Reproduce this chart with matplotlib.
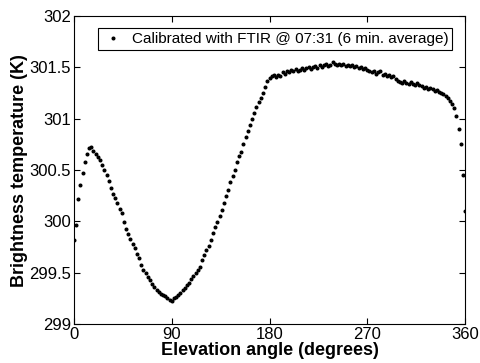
import numpy as np
import matplotlib
matplotlib.use('Agg')
import matplotlib.pyplot as plt

plt.rcParams['font.family'] = ['Liberation Sans', 'DejaVu Sans']

# angulos de elevacion (grados), cada 2 grados
angulo = np.arange(0, 361, 2)

# temperatura de brillo (K)
temperatura = [
    299.82, 299.97, 300.22, 300.35, 300.47, 300.58, 300.66, 300.71, 300.72, 300.69,
    300.66, 300.63, 300.60, 300.55, 300.50, 300.45, 300.39, 300.33, 300.27, 300.23,
    300.18, 300.12, 300.08, 299.99, 299.93, 299.88, 299.83, 299.78, 299.74, 299.68,
    299.64, 299.58, 299.53, 299.50, 299.46, 299.43, 299.39, 299.36, 299.33, 299.31,
    299.29, 299.28, 299.27, 299.25, 299.24, 299.23, 299.25, 299.26, 299.28, 299.30,
    299.33, 299.35, 299.38, 299.40, 299.44, 299.47, 299.50, 299.53, 299.56, 299.62,
    299.67, 299.72, 299.76, 299.82, 299.89, 299.95, 299.99, 300.05, 300.11, 300.18,
    300.25, 300.31, 300.38, 300.44, 300.50, 300.58, 300.64, 300.68, 300.75, 300.82,
    300.88, 300.94, 301.00, 301.06, 301.11, 301.16, 301.20, 301.25, 301.31, 301.37,
    301.40, 301.42, 301.43, 301.41, 301.43, 301.42, 301.45, 301.44, 301.46, 301.45,
    301.47, 301.46, 301.48, 301.46, 301.47, 301.49, 301.47, 301.49, 301.50, 301.48,
    301.50, 301.51, 301.49, 301.52, 301.50, 301.52, 301.53, 301.51, 301.52, 301.55,
    301.53, 301.52, 301.53, 301.52, 301.53, 301.51, 301.52, 301.51, 301.52, 301.50,
    301.51, 301.49, 301.50, 301.48, 301.49, 301.47, 301.46, 301.45, 301.46, 301.44,
    301.45, 301.46, 301.43, 301.44, 301.42, 301.43, 301.41, 301.42, 301.39, 301.37,
    301.36, 301.35, 301.37, 301.35, 301.34, 301.36, 301.34, 301.33, 301.35, 301.33,
    301.32, 301.30, 301.31, 301.29, 301.30, 301.29, 301.27, 301.28, 301.26, 301.25,
    301.24, 301.22, 301.20, 301.17, 301.14, 301.10, 301.03, 300.90, 300.75, 300.45,
    300.10,
]

etiqueta = 'Calibrated with FTIR @ 07:31 (6 min. average)'

fig = plt.figure(figsize=(4.8, 3.63), dpi=100)
ax = fig.add_axes([0.154, 0.107, 0.815, 0.849])

ax.plot(angulo, temperatura, '.', color='black', markersize=3.8, label=etiqueta)

ax.set_xlim(0, 360)
ax.set_ylim(299, 302)
ax.set_xticks([0, 90, 180, 270, 360])
ax.set_yticks([299, 299.5, 300, 300.5, 301, 301.5, 302])
ax.set_yticklabels(['299', '299.5', '300', '300.5', '301', '301.5', '302'])
ax.tick_params(direction='in', top=True, right=True, labelsize=12, length=4, pad=2)

ax.set_xlabel('Elevation angle (degrees)', fontsize=13, fontweight='bold', labelpad=0)
ax.set_ylabel('Brightness temperature (K)', fontsize=13, fontweight='bold', labelpad=1)

leg = ax.legend(loc='upper right', fontsize=11, fancybox=False, framealpha=1,
                edgecolor='black', handletextpad=0.5, borderpad=0.25,
                handlelength=1.5, bbox_to_anchor=(0.987, 0.985))
leg.get_frame().set_linewidth(0.8)

fig.savefig('out.png', dpi=100)
